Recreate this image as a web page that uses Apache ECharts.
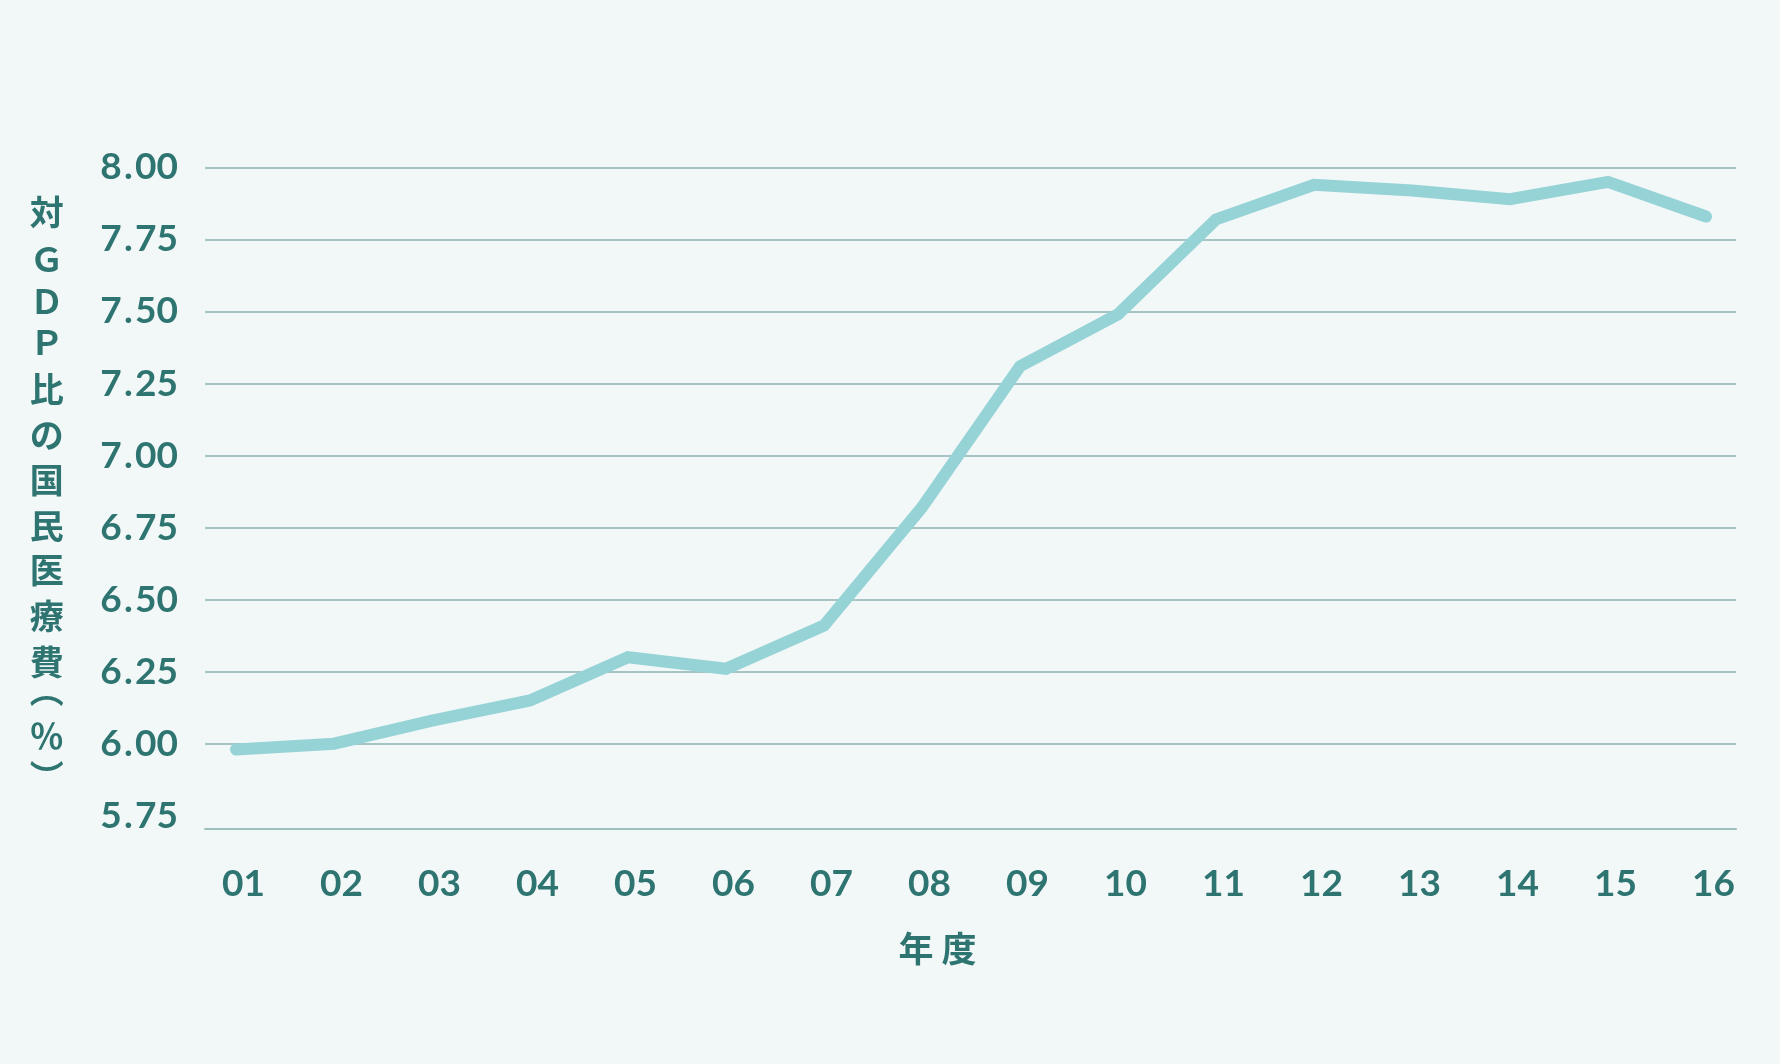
<!DOCTYPE html>
<html>
<head>
<meta charset="utf-8">
<script src="https://cdn.jsdelivr.net/npm/echarts@6/dist/echarts.min.js"></script>
<style>
  html, body { margin: 0; padding: 0; background: #f2f7f7; }
  #chart { width: 1780px; height: 1064px; }
</style>
</head>
<body>
<div id="chart"></div>
<script>
// ---- data ----
const years = ['01','02','03','04','05','06','07','08','09','10','11','12','13','14','15','16'];
const healthCostRatio = [5.98, 6.00, 6.08, 6.15, 6.30, 6.26, 6.41, 6.82, 7.31, 7.49, 7.82, 7.94, 7.92, 7.89, 7.95, 7.83];
const yMin = 5.75;
const yMax = 8.00;
const yStep = 0.25;
const yAxisTitle = ['対','Ｇ','Ｄ','Ｐ','比','の','国','民','医','療','費','︵','％','︶'];
const xAxisTitle = '年 度';

// ---- layout (vertical centres of the stacked y-axis title glyphs, px) ----
const yTitleCenters = [212, 259, 301, 342, 389, 435, 480, 526, 570, 616, 662, 690, 736, 777];

// ---- style ----
const textColor = '#2e7471';
const gridColor = '#8db3b2';
const lineColor = '#95d3d7';
const numFont = 'Lato';
const cjkFont = '"Noto Sans CJK JP"';

const nLines = Math.round((yMax - yMin) / yStep) + 1;
const splitColors = [];
for (let i = 0; i < nLines; i++) splitColors.push(i === 0 ? 'rgba(0,0,0,0)' : gridColor);

const gridTop = 167.5, gridBottom = 1064 - 815.7;

const titleGraphics = yAxisTitle.map((ch, i) => ({
  type: 'text', x: 46.7, y: yTitleCenters[i],
  style: {
    text: ch, fill: textColor,
    font: 'bold 34px ' + cjkFont,
    align: 'center', verticalAlign: 'middle'
  }
}));

const chart = echarts.init(document.getElementById('chart'), null, { renderer: 'canvas' });
chart.setOption({
  backgroundColor: '#f2f7f7',
  animation: false,
  grid: [
    { left: 205, right: 44, top: gridTop, bottom: gridBottom },
    { left: 236, right: 74, top: gridTop, bottom: gridBottom }
  ],
  xAxis: [
    {
      type: 'category', gridIndex: 0, data: years, boundaryGap: false,
      offset: 13,
      axisLine: { show: true, lineStyle: { color: '#9dbfbe', width: 2 } },
      axisTick: { show: false }, axisLabel: { show: false }, splitLine: { show: false }
    },
    {
      type: 'category', gridIndex: 1, data: years, boundaryGap: false,
      axisLine: { show: false }, axisTick: { show: false }, splitLine: { show: false },
      axisLabel: {
        color: textColor, fontFamily: numFont, fontWeight: 'bold', fontSize: 37,
        margin: 50, padding: [0, 0, 0, 15]
      }
    }
  ],
  yAxis: [
    {
      type: 'value', gridIndex: 0, min: yMin, max: yMax, interval: yStep,
      axisLine: { show: false }, axisTick: { show: false },
      axisLabel: {
        color: textColor, fontFamily: numFont, fontWeight: 'bold', fontSize: 37,
        margin: 27, formatter: v => v.toFixed(2).replace('.', '\u200A.\u200A')
      },
      splitLine: { show: true, lineStyle: { color: splitColors, width: 1.5 } }
    },
    {
      type: 'value', gridIndex: 1, min: yMin, max: yMax, interval: yStep,
      axisLine: { show: false }, axisTick: { show: false },
      axisLabel: { show: false }, splitLine: { show: false }
    }
  ],
  series: [{
    type: 'line', xAxisIndex: 1, yAxisIndex: 1,
    data: healthCostRatio,
    symbol: 'none',
    lineStyle: { color: lineColor, width: 12, cap: 'round', join: 'miter' }
  }],
  graphic: titleGraphics.concat([
    {
      type: 'text', x: 937.5, y: 949,
      style: {
        text: xAxisTitle,
        fill: textColor,
        font: 'bold 35px ' + cjkFont,
        align: 'center', verticalAlign: 'middle'
      }
    }
  ])
});
</script>
</body>
</html>
